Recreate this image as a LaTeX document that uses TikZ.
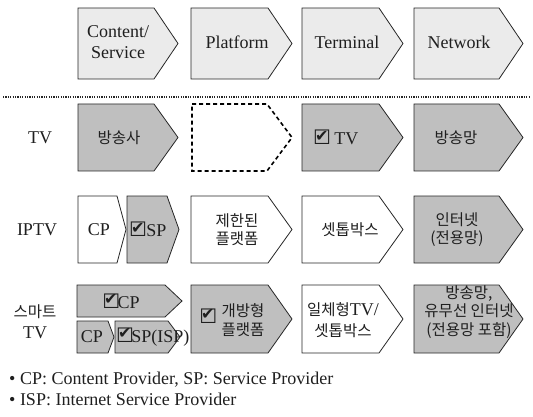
\documentclass[tikz,border=0pt]{standalone}
\usepackage{fontspec}
\setmainfont{Liberation Serif}
\newfontfamily\krfont{Noto Sans CJK KR}
\newfontfamily\symfont{DejaVu Sans}
\newcommand\kr[1]{{\krfont\fontsize{15.5}{18}\selectfont #1}}
\newcommand\chk{{\symfont\fontsize{20}{20}\selectfont\rlap{☐}\kern1.8pt\raisebox{3.5pt}{\fontsize{16}{16}\selectfont ✔}}}
% chevron: #1 style, #2 x1, #3 y1, #4 x2, #5 y2, #6 tip depth
\newcommand\chev[6]{\draw[#1] (#2,#3) -- ({#4-#6},#3) -- (#4,{(#3+#5)/2}) -- ({#4-#6},#5) -- (#2,#5) -- cycle;}
\begin{document}
\begin{tikzpicture}[x=1pt,y=-1pt,
  base/.style={draw=black!85, line width=0.8pt, line join=miter},
  hdr/.style={base, fill=black!8},
  dk/.style={base, fill=black!25},
  wt/.style={base, fill=white},
  dsh/.style={draw=black, line width=1.6pt, dash pattern=on 4pt off 3pt, fill=white},
  dotline/.style={draw=black!85, line width=1.8pt, dash pattern=on 1.2pt off 1.2pt},
  txt/.style={inner sep=0pt, align=center, text=black!88, font=\fontsize{18}{21}\selectfont},
  ktxt/.style={inner sep=0pt, align=center, text=black!88, font=\krfont\fontsize{15.5}{18.5}\selectfont},
  note/.style={inner sep=0pt, anchor=west, text=black!88, font=\fontsize{18}{20}\selectfont}]
\useasboundingbox (0,0) rectangle (533,417);
% header
\chev{hdr}{78}{8}{178}{79}{24}
\chev{hdr}{191}{8}{292}{79}{24}
\chev{hdr}{302}{8}{403}{79}{24}
\chev{hdr}{414}{8}{523}{79}{24}
\node[txt] (h1) at (118,42.5) {Content/\\Service};
\node[txt] (h2) at (237,42.5) {Platform};
\node[txt] (h3) at (347,42.5) {Terminal};
\node[txt] (h4) at (459,42.5) {Network};
% dotted separator
\coordinate (dl) at (3,97);
\coordinate (dr) at (530,97);
\draw[dotline] (dl) -- (dr);
% TV row
\node[txt] (l1) at (40,137.5) {TV};
\chev{dk}{78}{104}{178}{171}{24}
\chev{dsh}{192}{104}{292}{171}{25}
\chev{dk}{302}{104}{403}{171}{24}
\chev{dk}{414}{104}{523}{171}{24}
\node[ktxt] (t1) at (119,137.5) {방송사};
\node[txt, anchor=west] (t3) at (313,137.5) {\chk\hspace{6pt}TV};
\node[ktxt] (t4) at (456,137.5) {방송망};
% IPTV row
\node[txt] (l2) at (37,229.5) {IPTV};
\chev{wt}{78}{196}{126}{263}{9}
\chev{dk}{127}{196}{179}{263}{12}
\chev{wt}{191}{196}{292}{263}{24}
\chev{wt}{302}{196}{403}{263}{24}
\chev{dk}{414}{196}{523}{263}{24}
\node[txt] (i1) at (99,229.5) {CP};
\node[txt, anchor=west] (i2) at (129,229.5) {\chk\hspace{2pt}SP};
\node[ktxt] (i3) at (237,229.5) {제한된\\플랫폼};
\node[ktxt] (i4) at (350,229.5) {셋톱박스};
\node[ktxt] (i5) at (457,229.5) {인터넷\\(전용망)};
% Smart TV row
\node[txt] (l3) at (35,322) {\kr{스마트}\\TV};
\chev{dk}{77}{285}{182}{317}{17}
\chev{dk}{77}{321}{114}{353}{6}
\chev{dk}{115}{321}{180}{353}{12}
\chev{dk}{191}{285}{292}{353}{24}
\chev{wt}{302}{285}{403}{353}{24}
\chev{dk}{414}{285}{523}{353}{24}
\node[txt] (s1) at (121,301) {\chk CP};
\node[txt] (s2) at (92,337) {CP};
\node[txt, anchor=west] (s3) at (116,337) {\chk SP(ISP)};
\node[txt] (s4) at (207,316) {\chk};
\node[ktxt] (s5) at (243,320) {개방형\\플랫폼};
\node[txt] (s6) at (343,320) {\kr{일체형}TV/\\\kr{셋톱박스}};
\node[ktxt] (s7) at (469,312) {방송망,\\유무선 인터넷\\(전용망 포함)};
% notes
\node[note] (n1) at (9,380) {• CP: Content Provider, SP: Service Provider};
\node[note] (n2) at (9,399) {• ISP: Internet Service Provider};
\end{tikzpicture}
\end{document}
